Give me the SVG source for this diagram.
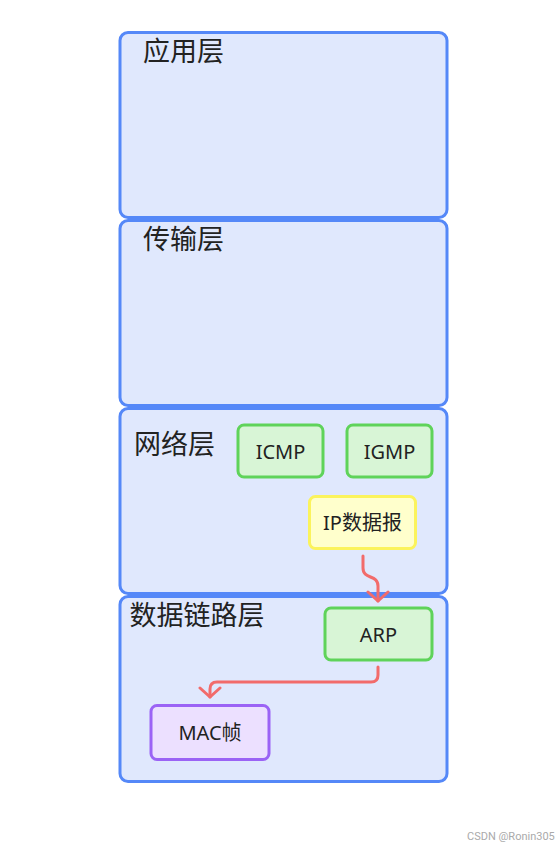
<svg xmlns="http://www.w3.org/2000/svg" width="559" height="847" viewBox="0 0 559 847">
<defs>
<style>
.layer{fill:#e0e8fd;stroke:#5588f8;stroke-width:3}
.lbl{font-family:"Noto Sans CJK SC","Noto Sans",sans-serif;font-size:27px;fill:#222}
.nt{font-family:"Noto Sans","Noto Sans CJK SC",sans-serif;font-size:20px;fill:#222;text-anchor:middle;dominant-baseline:central}
.green{fill:#d8f5d6;stroke:#5fd35a;stroke-width:3}
.yellow{fill:#ffffcc;stroke:#fbf35c;stroke-width:3}
.purple{fill:#ece0ff;stroke:#9b63f5;stroke-width:3}
.edge{fill:none;stroke:#f26b6b;stroke-width:3;stroke-linecap:round}
.wm{font-family:"Roboto","Liberation Sans",sans-serif;font-size:11px;fill:#aaa}
</style>
<marker id="arr" viewBox="-12 -12 24 24" refX="0" refY="0" markerWidth="24" markerHeight="24" markerUnits="userSpaceOnUse" orient="auto">
<path d="M-9,-10 L0,0 L-9,10" fill="none" stroke="#f26b6b" stroke-width="3" stroke-linecap="round" stroke-linejoin="round"/>
</marker>
</defs>
<rect width="559" height="847" fill="#fff"/>
<g id="layer-app"><rect class="layer" x="120" y="32.5" width="327" height="185" rx="8"/><text class="lbl" x="143" y="61">应用层</text></g>
<g id="layer-transport"><rect class="layer" x="120" y="220.5" width="327" height="185" rx="8"/><text class="lbl" x="143" y="249">传输层</text></g>
<g id="layer-network"><rect class="layer" x="120" y="408.5" width="327" height="185" rx="8"/><text class="lbl" x="134" y="454">网络层</text></g>
<g id="layer-link"><rect class="layer" x="120" y="596.5" width="327" height="185" rx="8"/><text class="lbl" x="129.5" y="625">数据链路层</text></g>
<g id="icmp"><rect class="green" x="238" y="425" width="85" height="52" rx="6"/><text class="nt" x="280.5" y="451">ICMP</text></g>
<g id="igmp"><rect class="green" x="347" y="425" width="85" height="52" rx="6"/><text class="nt" x="389.5" y="451">IGMP</text></g>
<g id="ip"><rect class="yellow" x="309.5" y="496.5" width="106" height="52" rx="6"/><text class="nt" x="362.5" y="522">IP数据报</text></g>
<g id="arp"><rect class="green" x="325" y="608" width="107" height="52" rx="6"/><text class="nt" x="378.5" y="634">ARP</text></g>
<g id="mac"><rect class="purple" x="151" y="705.5" width="118" height="54" rx="6"/><text class="nt" x="210" y="732">MAC帧</text></g>
<g id="edges">
<path class="edge" d="M363,556 V568 C363,580 378,574 378,586 V601" marker-end="url(#arr)"/>
<path class="edge" d="M378,667 V675 Q378,682 371,682 H217 Q210,682 210,689 V697" marker-end="url(#arr)"/>
</g>
<text class="wm" x="467" y="840">CSDN @Ronin305</text>
</svg>
